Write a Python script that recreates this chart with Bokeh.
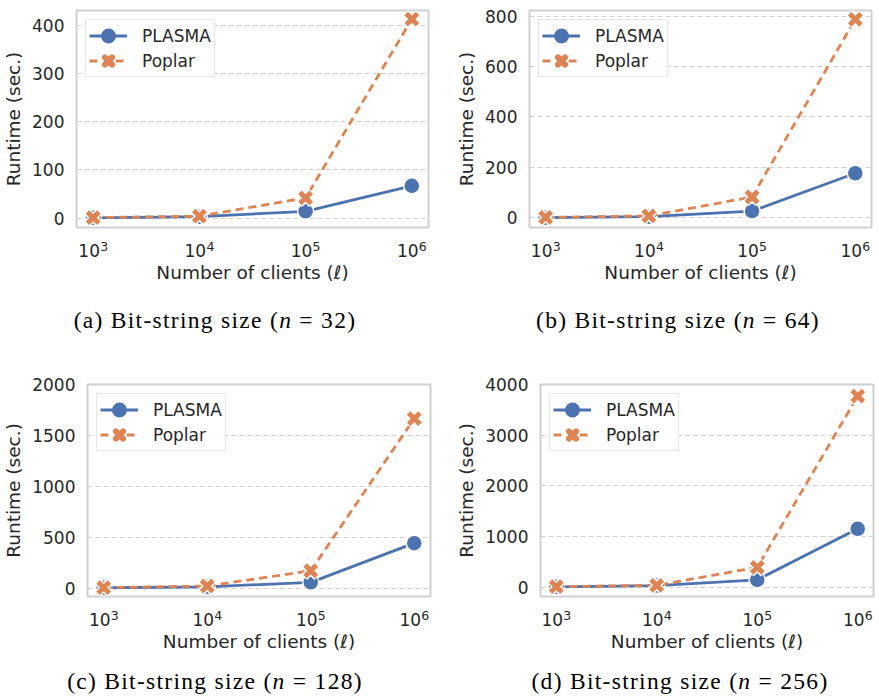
import math
from bokeh.plotting import figure
from bokeh.models import (Range1d, FixedTicker, Div, Legend, LegendItem,
                          LogAxis, LogScale, LinearScale)
from bokeh.layouts import column, row
from bokeh.embed import file_html
from bokeh.resources import INLINE

# ---------------- data ----------------
clients = [1000, 10000, 100000, 1000000]
x_tick_base = ["10", "10", "10", "10"]
x_tick_exponents = ["3", "4", "5", "6"]

plasma_32 = [0.5, 3, 14, 67]
poplar_32 = [1, 4, 42, 413]
plasma_64 = [1, 5, 27, 177]
poplar_64 = [2, 8, 83, 787]
plasma_128 = [3, 12, 56, 441]
poplar_128 = [4, 20, 170, 1665]
plasma_256 = [6, 30, 144, 1150]
poplar_256 = [10, 36, 390, 3770]

yticks_32 = [0, 100, 200, 300, 400]
yticks_64 = [0, 200, 400, 600, 800]
yticks_128 = [0, 500, 1000, 1500, 2000]
yticks_256 = [0, 1000, 2000, 3000, 4000]

captions = [
    "(a) Bit-string size (<i>n</i> = 32)",
    "(b) Bit-string size (<i>n</i> = 64)",
    "(c) Bit-string size (<i>n</i> = 128)",
    "(d) Bit-string size (<i>n</i> = 256)",
]

BLUE = "#4C72B0"
ORANGE = "#DD8452"
TXT = "#262626"
GRID = "#d0d0d0"
FONT = "DejaVu Sans"
X0, X1 = 697, 1.436e6


def shifted_range(fw, dx):
    l0, l1 = math.log10(X0), math.log10(X1)
    d = dx * (l1 - l0) / fw
    return Range1d(10 ** (l0 - d), 10 ** (l1 - d))


def style_axis(ax, size):
    ax.axis_line_color = None
    ax.major_tick_line_color = None
    ax.minor_tick_line_color = None
    ax.major_label_text_font = FONT
    ax.major_label_text_font_size = size
    ax.major_label_text_color = TXT
    ax.axis_label_text_font = FONT
    ax.axis_label_text_font_size = "18.5px"
    ax.axis_label_text_font_style = "normal"
    ax.axis_label_text_color = TXT


def make(plasma, poplar, yticks, yr, fw, fh, bl, bt, br, bb):
    p = figure(frame_width=fw, frame_height=fh, x_axis_type="log",
               x_axis_location=None,
               x_range=Range1d(X0, X1), y_range=Range1d(*yr),
               output_backend="svg", toolbar_location=None,
               min_border_left=bl, min_border_top=bt,
               min_border_right=br, min_border_bottom=bb,
               background_fill_color="white", border_fill_color="white")
    p.outline_line_color = GRID
    p.outline_line_width = 2

    # x axis: exponent row (nearest the frame) then "10" row, drawn as text
    p.extra_x_ranges = {"sup": shifted_range(fw, 11), "ten": shifted_range(fw, -4)}
    p.extra_x_scales = {"sup": LogScale(), "ten": LogScale()}
    sup = LogAxis(x_range_name="sup", ticker=FixedTicker(ticks=clients),
                  major_label_overrides={c: e for c, e in zip(clients, x_tick_exponents)})
    style_axis(sup, "12.5px")
    sup.major_label_standoff = 8
    ten = LogAxis(x_range_name="ten", ticker=FixedTicker(ticks=clients),
                  major_label_overrides={c: t for c, t in zip(clients, x_tick_base)},
                  axis_label="Number of clients (ℓ)")
    style_axis(ten, "17px")
    ten.major_label_standoff = -16
    ten.axis_label_standoff = 2
    p.add_layout(sup, "below")
    p.add_layout(ten, "below")

    p.yaxis.ticker = FixedTicker(ticks=yticks)
    style_axis(p.yaxis[0], "17px")
    p.yaxis.axis_label = "Runtime (sec.)"
    p.yaxis.major_label_standoff = 6
    p.yaxis.axis_label_standoff = 5

    p.xgrid.grid_line_color = None
    p.ygrid.grid_line_color = GRID
    p.ygrid.grid_line_dash = "5 3"
    p.ygrid.grid_line_width = 1.2

    l1 = p.line(clients, plasma, line_width=2.8, line_color=BLUE)
    p.scatter(clients, plasma, marker="circle", size=16,
              fill_color=BLUE, line_color="white", line_width=1.5)
    l2 = p.line(clients, poplar, line_width=2.8, line_color=ORANGE,
                line_dash="8 5")
    p.scatter(clients, poplar, marker="x", size=18,
              line_color="white", line_width=8)
    p.scatter(clients, poplar, marker="x", size=16,
              line_color=ORANGE, line_width=5)

    # legend-only marker styles: same data mapped on a y range that lies
    # far outside the frame, so they only appear in the legend
    p.extra_y_ranges = {"legend_only": Range1d(1e9, 2e9)}
    p.extra_y_scales = {"legend_only": LinearScale()}
    lc = p.scatter(clients, plasma, marker="circle", fill_color=BLUE,
                   line_color=BLUE, line_width=5, y_range_name="legend_only")
    lxw = p.scatter(clients, poplar, marker="x", line_color="white",
                    line_width=9, line_cap="round", y_range_name="legend_only")
    lxo = p.scatter(clients, poplar, marker="x", line_color=ORANGE,
                    line_width=6, line_cap="round", y_range_name="legend_only")

    legend = Legend(items=[
        LegendItem(label="PLASMA", renderers=[l1, lc]),
        LegendItem(label="Poplar", renderers=[l2, lxw, lxo]),
    ], location="top_left")
    legend.glyph_width = 38
    legend.glyph_height = 25
    legend.label_height = 20
    legend.label_text_font = FONT
    legend.label_text_font_size = "17px"
    legend.label_text_color = TXT
    legend.label_standoff = 15
    legend.padding = 3
    legend.spacing = 0
    legend.margin = 9
    legend.border_line_color = GRID
    legend.border_line_width = 1.2
    legend.background_fill_color = "white"
    legend.background_fill_alpha = 0.85
    p.add_layout(legend)
    return p


def caption(text, width, height, center, pad_top):
    html = ('<div style="width:%dpx;text-align:center;white-space:nowrap;'
            'font-family:\'Liberation Serif\',serif;font-size:23.5px;'
            'letter-spacing:1.3px;line-height:23px;padding-top:%dpx;'
            'color:#000;">%s</div>'
            % (2 * center, pad_top, text))
    return Div(text=html, width=width, height=height)


pa = make(plasma_32, poplar_32, yticks_32, (-19.5, 431), 352, 217, 66, 10, 12, 57)
pb = make(plasma_64, poplar_64, yticks_64, (-38, 822), 342, 217, 89, 10, 2, 57)
pc = make(plasma_128, poplar_128, yticks_128, (-83, 2000), 343, 212, 75, 19, 12, 61)
pd = make(plasma_256, poplar_256, yticks_256, (-185, 4000), 333, 212, 98, 19, 2, 61)

ca = caption(captions[0], 430, 70, 210, 19)
cb = caption(captions[1], 433, 70, 233, 19)
cc = caption(captions[2], 430, 30, 210, 8)
cd = caption(captions[3], 433, 30, 233, 8)

layout = column(
    row(column(pa, ca), column(pb, cb)),
    row(column(pc, cc), column(pd, cd)),
)

open("out.html", "w").write(file_html(layout, INLINE))
